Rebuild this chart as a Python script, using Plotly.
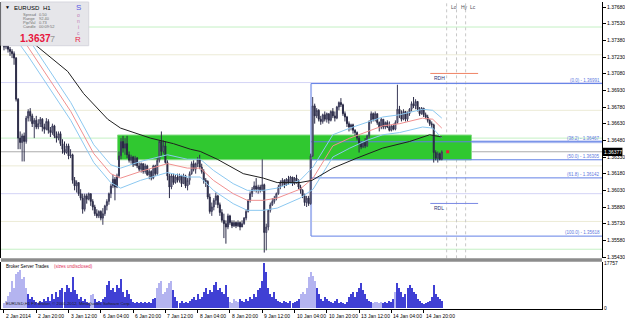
import plotly.graph_objects as go

# ---------------- data (prices in pips above 1.3500) ----------------
BASE = 1.35
PIP = 0.0001

FIRST_OPEN = 236
CLOSE = [232,235,230,228,226,222,185,150,146,152,147,168,174,170,163,166,160,163,167,160,
         158,165,157,155,161,152,150,154,145,140,137,143,134,135,112,107,110,100,96,86,
         98,95,100,93,88,82,80,84,78,82,89,93,100,107,113,106,116,134,147,141,
         145,135,130,133,126,132,125,122,127,120,125,117,120,114,125,118,130,147,138,143,
         128,116,106,116,110,115,112,116,109,116,107,112,118,127,122,127,131,124,120,112,
         111,97,84,88,94,98,90,83,76,73,70,80,74,71,74,71,74,70,73,78,
         84,94,100,104,107,104,106,103,108,65,70,85,90,93,96,100,106,110,112,108,
         113,110,115,109,114,111,106,103,98,92,96,91,134,179,170,175,167,165,171,167,
         172,166,174,170,168,178,182,180,172,169,163,160,162,157,155,150,145,142,146,143,
         152,165,172,167,172,164,160,167,160,164,160,157,161,158,164,176,172,167,174,167,
         172,176,181,179,183,176,172,177,171,169,166,163,162,137,132,136,131,137.7]
HIGH = [239,237,236,232,230,228,223,186,156,154,155,170,176,177,172,168,170,167,169,168,
        163,168,167,160,163,162,156,156,156,149,147,145,145,140,136,115,112,110,104,100,
        100,100,101,100,95,90,86,85,85,87,90,95,101,109,117,115,118,138,150,152,
        150,152,138,135,134,134,133,128,128,127,127,126,122,121,126,126,132,148,156,148,
        147,130,118,118,118,117,118,118,117,118,117,114,120,129,130,128,133,135,127,122,
        114,112,100,92,96,101,99,92,86,82,76,82,81,76,76,75,76,75,76,79,
        86,95,102,106,111,114,108,108,131,109,73,86,92,96,98,101,108,112,114,113,
        114,116,116,115,115,117,113,108,104,100,98,98,136,187,181,177,176,170,172,174,
        173,172,175,177,174,179,183,186,181,174,170,165,163,163,158,156,152,147,147,150,
        153,166,174,173,174,172,165,168,167,165,166,165,162,163,166,198,179,175,176,174,
        174,177,183,187,185,183,178,178,177,173,171,167,165,163,139,138,137,139]
LOW = [229,230,227,224,222,216,183,140,140,129,129,145,165,165,160,150,158,158,160,156,
       154,157,154,151,153,150,146,148,143,136,135,136,131,132,109,103,101,98,94,82,
       84,91,94,89,85,80,78,78,76,72,80,85,90,96,105,94,105,114,131,137,
       135,132,128,127,124,125,123,120,119,118,118,116,113,112,113,116,117,128,134,136,
       127,112,96,104,108,109,110,110,106,109,105,103,108,117,120,118,124,122,118,109,
       106,95,82,80,85,90,87,80,74,60,55,68,72,69,70,69,70,67,70,72,
       76,83,92,97,102,101,100,101,102,47,49,67,83,89,91,94,99,104,107,105,
       107,108,109,107,108,109,104,100,96,89,88,89,90,133,163,168,165,162,163,165,
       164,163,165,168,165,167,175,178,170,165,160,156,157,154,152,148,137,140,141,141,
       142,150,163,165,165,162,156,158,158,158,159,156,156,157,157,163,168,165,166,165,
       165,170,174,177,176,174,170,171,169,167,164,161,159,128,130,128,130,130]

VOLUME = [1776,2664,4617,6215,10654,7991,13318,14206,15093,11542,12430,7991,5327,3551,4439,3196,2131,1776,2664,2131,
          3551,2664,4439,2664,5327,3551,6215,4439,7103,7991,6215,8879,7991,6215,12430,7103,5327,3551,4439,2664,
          3551,2131,1776,4972,5327,3551,2131,2664,2131,3551,4439,8879,10654,7103,7991,6215,8879,7991,11542,6215,
          4439,7103,5327,3551,2131,1776,2131,1776,2131,1776,2131,1776,2131,1776,3551,3907,7991,9766,10654,5327,
          6215,7991,9766,10654,7103,4439,2664,1776,2664,1776,2131,1776,2664,3551,4439,3196,5327,3551,4439,6215,
          7991,5327,7103,6215,8879,10299,7103,7991,6215,5327,9234,4439,2131,1776,3551,2664,2131,3551,2664,2131,
          3551,2664,4439,3551,5327,4439,7103,7991,10654,17757,14206,7991,5327,4439,6215,3551,2664,2131,1776,2664,
          2131,1776,2664,1776,2131,2664,3551,5327,6215,5327,7991,12430,14206,12785,10654,7991,5327,3551,2664,4439,
          3551,2664,2131,1776,2664,3551,1776,2131,1776,1421,2131,4439,5327,6215,4439,6215,7991,9766,7103,5327,
          3551,2664,2131,1776,2131,2131,1776,2131,1776,2131,1776,2664,2131,3551,6215,9766,7991,6215,4439,5327,
          7991,8879,7991,6215,5327,3551,2664,1776,1421,1776,2131,2664,4439,9234,5327,4439,3551,2664]
LIGHT_VOLUME_RANGES = [(0, 11), (43, 44), (76, 83), (112, 116), (147, 154), (183, 187), (194, 194)]
VOLUME_MAX = 17757

X_TICK_BARS = [0, 16, 32, 48, 64, 80, 96, 112, 128, 144, 160, 176, 192, 208]
X_TICK_LABELS = ["2 Jan 2014", "2 Jan 20:00", "3 Jan 12:00", "6 Jan 04:00", "6 Jan 20:00",
                 "7 Jan 12:00", "8 Jan 04:00", "8 Jan 20:00", "9 Jan 12:00", "10 Jan 04:00",
                 "10 Jan 20:00", "13 Jan 12:00", "14 Jan 04:00", "14 Jan 20:00"]
PRICE_TICKS = [1.37680, 1.37530, 1.37380, 1.37230, 1.37080, 1.36930, 1.36780, 1.36630,
               1.36480, 1.36330, 1.36180, 1.36030, 1.35880, 1.35730, 1.35580, 1.35430]

EMA89_BARS = [0, 16.8, 31.6, 39.5, 51.4, 57.8, 72.6, 84.0, 92.4, 97.3, 105.7, 118.6, 128.5,
              135.4, 146.7, 152.7, 163.0, 174.9, 187.7, 201.1, 211.0, 217.0]
EMA89 = [257, 232, 210, 190, 167, 159, 150, 145, 140, 138, 131, 118, 114, 110, 110, 112,
         123, 132, 141, 147, 153, 151]
DRAGON_BARS = [0, 11.9, 33.1, 44.5, 52.9, 57.8, 67.7, 81.0, 90.9, 97.3, 103.8, 113.6, 120.6,
               128.5, 135.4, 146.7, 153.2, 163.0, 171.4, 179.8, 187.7, 196.1, 207.5, 212.5, 217.0]
DRAGON_MID = [262, 232, 174, 136, 118, 114, 120, 127, 123, 123, 112, 100, 94, 94, 96, 104,
              114, 143, 150, 156, 161, 163, 168, 167, 159]
DRAGON_HIGH = [270, 240, 182, 144, 126, 123, 129, 135, 131, 131, 121, 109, 103, 103, 105, 112,
               124, 153, 159, 164, 169, 171, 176, 175, 168]
DRAGON_LOW = [254, 224, 166, 128, 110, 105, 112, 119, 115, 115, 103, 91, 85, 85, 87, 96,
              104, 133, 141, 148, 153, 155, 160, 159, 150]

PIVOT_LEVELS = [1.3750, 1.3725, 1.3700, 1.3675, 1.3650, 1.3625, 1.3600, 1.3575, 1.3550]
PIVOT_KIND = ["50", "25", "00", "25", "50", "25", "00", "25", "50"]
BID = 1.36377

FIB_LEVELS = ["0.0", "38.2", "50.0", "61.8", "100.0"]
FIB_PRICES = [1.36991, 1.36467, 1.36305, 1.36142, 1.35618]
FIB_START_BAR = 152.2

BOX_BARS = (56.3, 231.7)
BOX_PRICES = (1.36305, 1.36528)
RD_BARS = (211.3, 235.0)
RDH, RDL = 1.37082, 1.35912
VLINE_BARS = [219.4, 224.3, 228.8]
VLINE_LABELS = ["Lo", "Hy", "Lc"]
MARKER_BAR = 219.9

# ---------------- layout constants ----------------
W, H = 625, 323
MR, MB = 22, 14
PW, PH = W - MR, H - MB
FONT = "Liberation Sans"
X_RANGE = [-1.48, 296.4]
Y_RANGE = [1.35418, 1.37725]


def px(x):
    return x / PW


def py(y):
    return (PH - y) / PH


def pr(v):
    return [BASE + p * PIP for p in v]


bars = list(range(len(CLOSE)))
opens = [FIRST_OPEN] + CLOSE[:-1]

fig = go.Figure()

fig.add_trace(go.Candlestick(
    x=bars, open=pr(opens), high=pr(HIGH), low=pr(LOW), close=pr(CLOSE),
    increasing=dict(line=dict(color="#3a3a58", width=1), fillcolor="#b4b4c8"),
    decreasing=dict(line=dict(color="#2a2a46", width=1), fillcolor="#2a2a46"),
    whiskerwidth=0, hoverinfo="skip", showlegend=False))

fig.add_trace(go.Scatter(x=DRAGON_BARS, y=pr(DRAGON_HIGH), mode="lines",
                         line=dict(color="#8cc8f0", width=1), hoverinfo="skip"))
fig.add_trace(go.Scatter(x=DRAGON_BARS, y=pr(DRAGON_LOW), mode="lines",
                         line=dict(color="#8cc8f0", width=1), hoverinfo="skip"))
fig.add_trace(go.Scatter(x=DRAGON_BARS, y=pr(DRAGON_MID), mode="lines",
                         line=dict(color="#f09090", width=1), hoverinfo="skip"))
fig.add_trace(go.Scatter(x=EMA89_BARS, y=pr(EMA89), mode="lines",
                         line=dict(color="#202020", width=1), hoverinfo="skip"))
fig.add_trace(go.Scatter(x=[MARKER_BAR], y=[BID], mode="markers",
                         marker=dict(symbol="square", size=3, color="#e8203c"), hoverinfo="skip"))

vol_colors = []
for i in bars:
    light = any(a <= i <= b for a, b in LIGHT_VOLUME_RANGES)
    vol_colors.append("#b4b4f0" if light else "#4040d4")
fig.add_trace(go.Bar(x=bars, y=VOLUME, width=0.5, marker=dict(color=vol_colors, line=dict(width=0)),
                     yaxis="y2", hoverinfo="skip"))

shapes = []
pivot_colors = {"50": "#c4f0c4", "25": "#ecebd6", "00": "#d4d4f6"}
for lvl, kind in zip(PIVOT_LEVELS, PIVOT_KIND):
    shapes.append(dict(type="line", xref="paper", yref="y", x0=0, x1=1, y0=lvl, y1=lvl,
                       line=dict(color=pivot_colors[kind], width=1), layer="below"))
shapes.append(dict(type="line", xref="paper", yref="y", x0=0, x1=1, y0=BID, y1=BID,
                   line=dict(color="#ababab", width=1), layer="below"))
# fib 38.2 light band
shapes.append(dict(type="line", xref="x", yref="y", x0=FIB_START_BAR, x1=X_RANGE[1],
                   y0=FIB_PRICES[1], y1=FIB_PRICES[1], line=dict(color="#c4cdf4", width=3), layer="below"))
# green zone
shapes.append(dict(type="rect", xref="x", yref="y", x0=BOX_BARS[0], x1=BOX_BARS[1],
                   y0=BOX_PRICES[0], y1=BOX_PRICES[1], fillcolor="#30c830",
                   line=dict(color="#86dc86", width=1), layer="below"))
# fib lines
shapes.append(dict(type="line", xref="x", yref="y", x0=FIB_START_BAR, x1=FIB_START_BAR,
                   y0=FIB_PRICES[0], y1=FIB_PRICES[-1], line=dict(color="#a8b8f0", width=2), layer="below"))
for p in FIB_PRICES:
    shapes.append(dict(type="line", xref="x", yref="y", x0=FIB_START_BAR, x1=X_RANGE[1],
                       y0=p, y1=p, line=dict(color="#6280e6", width=1), layer="below"))
shapes.append(dict(type="line", xref="x", yref="y", x0=RD_BARS[0], x1=RD_BARS[1], y0=RDH, y1=RDH,
                   line=dict(color="#f08466", width=1), layer="below"))
shapes.append(dict(type="line", xref="x", yref="y", x0=RD_BARS[0], x1=RD_BARS[1], y0=RDL, y1=RDL,
                   line=dict(color="#7a88e4", width=1), layer="below"))
for b in VLINE_BARS:
    shapes.append(dict(type="line", xref="x", yref="y domain", x0=b, x1=b, y0=0, y1=1,
                       line=dict(color="#c8c8c8", width=1, dash="dot"), layer="below"))
# separator between panels
shapes.append(dict(type="rect", xref="paper", yref="paper", x0=0, x1=1, y0=py(261.5), y1=py(258),
                   fillcolor="#8c8c8c", line=dict(width=0), layer="above"))
# info box
shapes.append(dict(type="rect", xref="paper", yref="paper", x0=0, x1=px(88), y0=py(44), y1=1,
                   fillcolor="#e6e6ea", line=dict(color="#d6d6de", width=1), layer="above"))
# current price tag
shapes.append(dict(type="rect", xref="paper", yref="y", x0=1.0, x1=px(623.5),
                   y0=BID - 0.00037, y1=BID + 0.00037, fillcolor="#000000", line=dict(width=0)))

ann = []


def txt(t, x, y, size=5, color="#000000", anchor="left", bold=False, xref="paper", yref="paper"):
    if bold:
        t = "<b>" + t + "</b>"
    ann.append(dict(text=t, x=x, y=y, xref=xref, yref=yref, xanchor=anchor, yanchor="middle",
                    showarrow=False, font=dict(family=FONT, size=size, color=color)))


for b, lab in zip(X_TICK_BARS, X_TICK_LABELS):
    txt(lab, b, py(316.5), size=5, xref="x")

txt("▼", px(2), py(5.5), size=5)
txt("EURUSD", px(11), py(6), size=6)
txt("H1", px(40), py(6), size=6)
for k, (lab, val) in enumerate([("Spread", "0.50"), ("Range", "92.40"), ("Pip/Val", "0.73"),
                                 ("Candle", "00:09:52")]):
    txt(lab, px(20), py(13 + 4 * k), size=4, color="#707070")
    txt(val, px(36), py(13 + 4 * k), size=4, color="#707070")
txt("1.3637", px(17.5), py(37), size=10, color="#e8143c", bold=True)
txt("7", px(47.5), py(37.5), size=9, color="#999999")
txt("S", px(77.5), py(6), size=8, color="#5a5ae6", anchor="center")
for k, ch in enumerate(["o", "n", "i", "c"]):
    txt(ch, px(77.5), py(13 + 6 * k), size=5, color="#c07ab8", anchor="center")
txt("R", px(77.5), py(37.5), size=8, color="#e8284c", anchor="center")

for b, lab in zip(VLINE_BARS, VLINE_LABELS):
    txt(lab, b + 1.0, py(5), size=5, color="#505060", xref="x")

for lvl, p in zip(FIB_LEVELS, FIB_PRICES):
    ann.append(dict(text="(%s) - %.5f" % (lvl, p), x=1.0, y=p, xref="paper", yref="y",
                    xanchor="right", yanchor="bottom", showarrow=False, yshift=-1,
                    font=dict(family=FONT, size=4.5, color="#5c78e0")))

ann.append(dict(text="RDH", x=RD_BARS[0] + 0.7, y=RDH, xref="x", yref="y", xanchor="left",
                yanchor="top", showarrow=False, font=dict(family=FONT, size=5, color="#303078")))
ann.append(dict(text="RDL", x=RD_BARS[0] + 0.7, y=RDL, xref="x", yref="y", xanchor="left",
                yanchor="top", showarrow=False, font=dict(family=FONT, size=5, color="#303078")))

txt("Broker Server Trades", px(3), py(266.5), size=4.5)
txt("(sizes undisclosed)", px(51.5), py(266.5), size=4.5, color="#e0305a")
txt("EURUSD,H1 FX Broker, © 2001-2012, MetaQuotes Software Corp.", px(3), py(303.5), size=4.2,
    color="#202020")

ann.append(dict(text="%.5f" % BID, x=px(614), y=BID, xref="paper", yref="y", xanchor="center",
                yanchor="middle", showarrow=False, font=dict(family=FONT, size=5, color="#ffffff")))

fig.update_layout(
    width=W, height=H, margin=dict(l=0, r=MR, t=0, b=MB),
    paper_bgcolor="#ffffff", plot_bgcolor="#ffffff", showlegend=False,
    bargap=0, shapes=shapes, annotations=ann,
    xaxis=dict(range=X_RANGE, anchor="y2", showgrid=False, zeroline=False,
               tickvals=X_TICK_BARS, ticks="outside", ticklen=3, tickcolor="#000000",
               showticklabels=False, showline=True, linecolor="#000000", linewidth=1,
               rangeslider=dict(visible=False)),
    yaxis=dict(domain=[py(258), 1], range=Y_RANGE, side="right", showgrid=False, zeroline=False,
               tickvals=PRICE_TICKS, ticktext=["%.5f" % t for t in PRICE_TICKS],
               ticks="outside", ticklen=3, tickcolor="#000000",
               tickfont=dict(family=FONT, size=5, color="#000000"),
               showline=True, linecolor="#000000", linewidth=1, mirror=True),
    yaxis2=dict(domain=[0, py(262)], range=[-350, 18200], side="right", anchor="x",
                showgrid=False, zeroline=False, tickvals=[0, VOLUME_MAX],
                ticktext=["0", str(VOLUME_MAX)], ticks="", ticklen=3,
                tickfont=dict(family=FONT, size=5, color="#000000"),
                showline=True, linecolor="#000000", linewidth=1, mirror=True),
)

fig.write_html("out.html")
